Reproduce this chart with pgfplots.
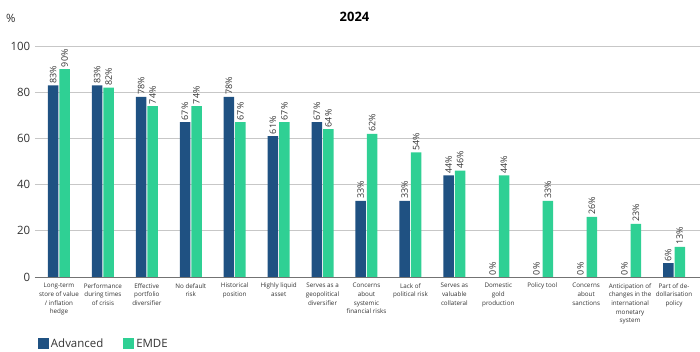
\documentclass[border=0pt]{standalone}
\usepackage{fontspec}
\setmainfont{Open Sans}
\usepackage{pgfplots}
\pgfplotsset{compat=1.18}
\definecolor{adv}{HTML}{1F5182}
\definecolor{emde}{HTML}{2FD094}
\definecolor{txt}{HTML}{333333}
\begin{document}
\begin{tikzpicture}
\useasboundingbox (0,0) rectangle (700bp,352bp);
\begin{axis}[
  at={(34.8bp,75bp)}, anchor=south west,
  scale only axis, width=664.7bp, height=231bp,
  xmin=-0.55, xmax=14.58, ymin=0, ymax=100,
  ytick={0,20,40,60,80,100},
  xtick={0,...,14},
  xticklabels={
    {Long-term\\store of value\\/ inflation\\hedge},
    {Performance\\during times\\of crisis},
    {Effective\\portfolio\\diversifier},
    {No default\\risk},
    {Historical\\position},
    {Highly liquid\\asset},
    {Serves as a\\geopolitical\\diversifier},
    {Concerns\\about\\systemic\\financial risks},
    {Lack of\\political risk},
    {Serves as\\valuable\\collateral},
    {Domestic\\gold\\production},
    {Policy tool},
    {Concerns\\about\\sanctions},
    {Anticipation of\\changes in the\\international\\monetary\\system},
    {Part of de-\\dollarisation\\policy}},
  x tick label style={font=\fontsize{6.3}{8.7}\selectfont, align=center, text=txt, inner sep=1bp, yshift=-5bp},
  y tick label style={font=\fontsize{11.5}{13}\selectfont, text=txt, xshift=-1bp},
  /pgf/number format/assume math mode=true,
  major tick length=0pt,
  axis line style={draw=none},
  ymajorgrids, grid style={color=black!22, line width=1pt},
  clip=false,
  ybar, bar width=10.5bp,
  nodes near coords={\pgfmathprintnumber[fixed,precision=0]{\pgfplotspointmeta}\%},
  every node near coord/.append style={rotate=90, anchor=west, inner sep=1.8bp, font=\fontsize{9}{10}\selectfont, text=txt},
  legend style={at={(axis description cs:0,-0.29)}, anchor=west, draw=none, fill=none,
    font=\fontsize{11.5}{13}\selectfont, text=txt, legend columns=2,
    /tikz/every even column/.append style={column sep=18bp}},
  legend image code/.code={\fill[#1] (0bp,-5.5bp) rectangle (11bp,5.5bp);},
]
\addplot[fill=adv, draw=none, bar shift=-5.75bp] coordinates {
 (0,83) (1,83) (2,78) (3,67) (4,78) (5,61) (6,67) (7,33) (8,33) (9,44) (10,0) (11,0) (12,0) (13,0) (14,6)};
\addplot[fill=emde, draw=none, bar shift=5.75bp] coordinates {
 (0,90) (1,82) (2,74) (3,74) (4,67) (5,67) (6,64) (7,62) (8,54) (9,46) (10,44) (11,33) (12,26) (13,23) (14,13)};
\legend{Advanced, EMDE}
\draw[black!55, line width=1pt] (axis cs:-0.55,0) -- (axis cs:14.58,0);
\node[anchor=center, font=\fontsize{11.5}{13}\selectfont, text=txt] at ([xshift=-24bp,yshift=28bp]rel axis cs:0,1) {\%};
\node[anchor=center, font=\bfseries\fontsize{13}{15}\selectfont, text=black] at ([yshift=29bp]axis description cs:0.481,1) {2024};
\end{axis}
\end{tikzpicture}
\end{document}
